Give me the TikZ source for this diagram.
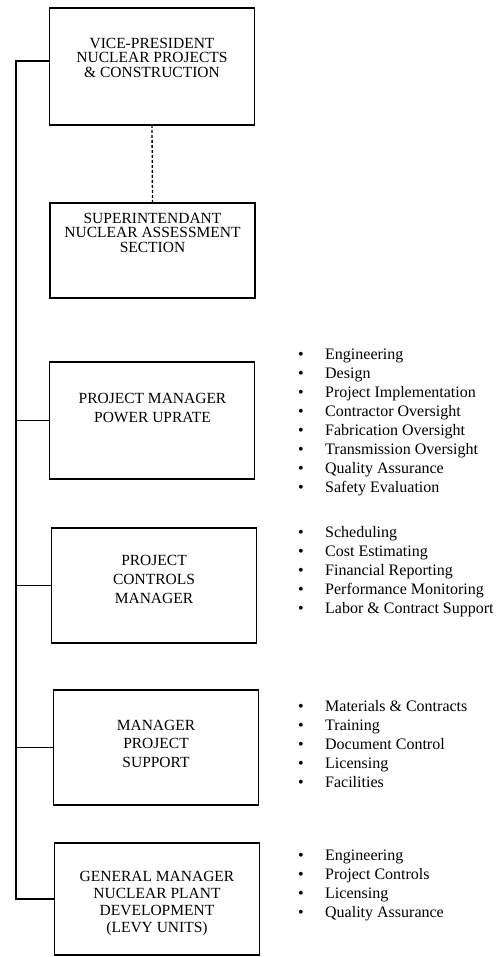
\documentclass[tikz,border=0pt]{standalone}
\usepackage{fontspec}
\setmainfont{Liberation Serif}
\newcommand{\dotitem}[1]{\makebox[27pt][l]{\textbullet}#1}
\begin{document}
\begin{tikzpicture}[x=1pt,y=-1pt,
        orgbox/.style={draw,line width=1.3pt,minimum width=205pt,inner sep=0pt,outer sep=0pt},
        boxtext/.style={align=center,inner sep=0pt,font=\fontsize{15.5}{#1}\selectfont},
        duties/.style={align=left,anchor=west,inner sep=0pt,font=\fontsize{16}{19}\selectfont},
        link/.style={line width=1.3pt}]
        \useasboundingbox (0,0) rectangle (498,957);
        \begin{scope}
            \node[orgbox,minimum height=117pt] (vp) at (152,66.5) {};
            \node[orgbox,minimum height=95pt] (sup) at (152.5,250.5) {};
            \node[orgbox,minimum height=117pt] (pm) at (152,420.5) {};
            \node[orgbox,minimum height=115pt] (pc) at (154,585.5) {};
            \node[orgbox,minimum height=115pt] (mps) at (156,747.5) {};
            \node[orgbox,minimum height=112pt] (gm) at (157,899) {};
            \node[boxtext=14.5] (vptext) at (152,57.5) {VICE-PRESIDENT\\NUCLEAR PROJECTS\\\& CONSTRUCTION};
            \node[boxtext=14.5] (suptext) at (152.5,232.5) {SUPERINTENDANT\\NUCLEAR ASSESSMENT\\SECTION};
            \node[boxtext=19] (pmtext) at (152.5,407.5) {PROJECT MANAGER\\POWER UPRATE};
            \node[boxtext=19] (pctext) at (154,579) {PROJECT\\CONTROLS\\MANAGER};
            \node[boxtext=18.5] (mpstext) at (156,743.5) {MANAGER\\PROJECT\\SUPPORT};
            \node[boxtext=17] (gmtext) at (157,904) {GENERAL MANAGER\\NUCLEAR PLANT\\DEVELOPMENT\\(LEVY UNITS)};
        \end{scope}
        \begin{scope}
            \node[duties] (pmlist) at (298,422) {\dotitem{Engineering}\\\dotitem{Design}\\\dotitem{Project Implementation}\\\dotitem{Contractor Oversight}\\\dotitem{Fabrication Oversight}\\\dotitem{Transmission Oversight}\\\dotitem{Quality Assurance}\\\dotitem{Safety Evaluation}};
            \node[duties] (pclist) at (298,572) {\dotitem{Scheduling}\\\dotitem{Cost Estimating}\\\dotitem{Financial Reporting}\\\dotitem{Performance Monitoring}\\\dotitem{Labor \& Contract Support}};
            \node[duties] (mpslist) at (298,744) {\dotitem{Materials \& Contracts}\\\dotitem{Training}\\\dotitem{Document Control}\\\dotitem{Licensing}\\\dotitem{Facilities}};
            \node[duties] (gmlist) at (298,885.5) {\dotitem{Engineering}\\\dotitem{Project Controls}\\\dotitem{Licensing}\\\dotitem{Quality Assurance}};
        \end{scope}
        \coordinate (spine) at (16,61);
        \draw[link,dash pattern=on 3pt off 2pt] (vp.south) -- (sup.north);
        \draw[link] ([yshift=5.5pt]vp.west) -- (spine) |- (gm.west);
        \foreach \b in {pm,pc,mps}
            \draw[link] (\b.west) -- (\b.west -| spine);
    \end{tikzpicture}
\end{document}
